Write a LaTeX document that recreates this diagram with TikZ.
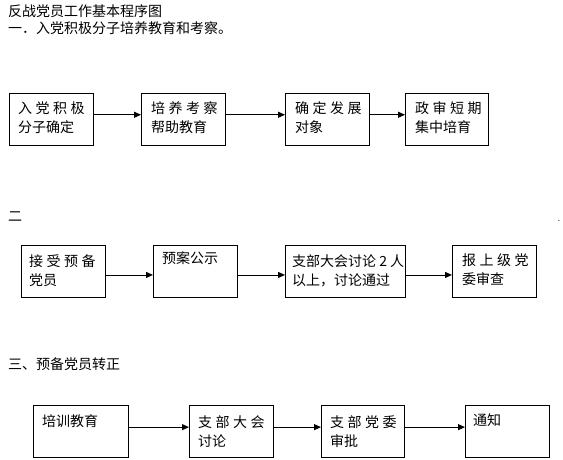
\documentclass[tikz,border=0pt]{standalone}
\usepackage{fontspec}
\setmainfont{Noto Sans CJK SC}
\usetikzlibrary{arrows.meta}
\newcommand\gp{\kern3.5pt}
\begin{document}
\begin{tikzpicture}[x=1pt,y=-1pt,
  box/.style={draw, line width=0.9pt, anchor=north west, inner sep=0pt},
  txt/.style={anchor=north west, inner sep=0pt, align=left, font=\fontsize{14}{19}\selectfont},
  ttl/.style={anchor=north west, inner sep=0pt, font=\fontsize{14}{18}\selectfont},
  arr/.style={draw, line width=0.9pt, -{Triangle[length=7pt,width=6pt]}}]
\fill[white] (0,0) rectangle (563,460);
\useasboundingbox (0,0) rectangle (563,460);

% titles
\node[ttl] (t1) at (8,4) {反战党员工作基本程序图};
\node[ttl] (t2) at (8,21) {一．入党积极分子培养教育和考察。};
\node[ttl] (t3) at (8,212) {二};
\node[ttl] (t4) at (8,357) {三、预备党员转正};
\node[inner sep=0pt, font=\fontsize{8}{8}\selectfont] (dot) at (559,221) {.};

% row 1
\node[box, minimum width=84, minimum height=52] (a1) at (9,93) {};
\node[box, minimum width=84, minimum height=52] (a2) at (141,93) {};
\node[box, minimum width=84, minimum height=52] (a3) at (285,93) {};
\node[box, minimum width=83, minimum height=52] (a4) at (405,93) {};
\node[txt] (a1t) at (18,101.5) {入\gp 党\gp 积\gp 极\\分子确定};
\node[txt] (a2t) at (151,101.5) {培\gp 养\gp 考\gp 察\\帮助教育};
\node[txt] (a3t) at (295,101.5) {确\gp 定\gp 发\gp 展\\对象};
\node[txt] (a4t) at (415,101.5) {政\gp 审\gp 短\gp 期\\集中培育};
\draw[arr] ([yshift=4.7pt]a1.east) -- ([yshift=4.7pt]a2.west);
\draw[arr] ([yshift=4.7pt]a2.east) -- ([yshift=4.7pt]a3.west);
\draw[arr] ([yshift=4.7pt]a3.east) -- ([yshift=4.7pt]a4.west);

% row 2
\node[box, minimum width=84, minimum height=52] (b1) at (20.5,244.5) {};
\node[box, minimum width=84, minimum height=52] (b2) at (153,244.5) {};
\node[box, minimum width=120, minimum height=52] (b3) at (285,244.5) {};
\node[box, minimum width=84, minimum height=52] (b4) at (452,244.5) {};
\node[txt] (b1t) at (29,254) {接\gp 受\gp 预\gp 备\\党员};
\node[txt] (b2t) at (162,251) {预案公示};
\node[txt] (b3t) at (292,254) {支部大会讨论 2 人\\以上，讨论通过};
\node[txt] (b4t) at (462,254) {报\gp 上\gp 级\gp 党\\委审查};
\draw[arr] ([yshift=-4pt]b1.east) -- ([yshift=-4pt]b2.west);
\draw[arr] ([yshift=-4pt]b2.east) -- ([yshift=-4pt]b3.west);
\draw[arr] ([yshift=-4pt]b3.east) -- ([yshift=-4pt]b4.west);

% row 3
\node[box, minimum width=95, minimum height=52] (c1) at (33,405) {};
\node[box, minimum width=84, minimum height=52] (c2) at (189,405) {};
\node[box, minimum width=83, minimum height=52] (c3) at (321,405) {};
\node[box, minimum width=84, minimum height=52] (c4) at (465,405) {};
\node[txt] (c1t) at (42,414) {培训教育};
\node[txt] (c2t) at (198,415.5) {支\gp 部\gp 大\gp 会\\讨论};
\node[txt] (c3t) at (330,415.5) {支\gp 部\gp 党\gp 委\\审批};
\node[txt] (c4t) at (473,414) {通知};
\draw[arr] ([yshift=4.3pt]c1.east) -- ([yshift=4.3pt]c2.west);
\draw[arr] ([yshift=4.3pt]c2.east) -- ([yshift=4.3pt]c3.west);
\draw[arr] ([yshift=4.3pt]c3.east) -- ([yshift=4.3pt]c4.west);
\end{tikzpicture}
\end{document}
